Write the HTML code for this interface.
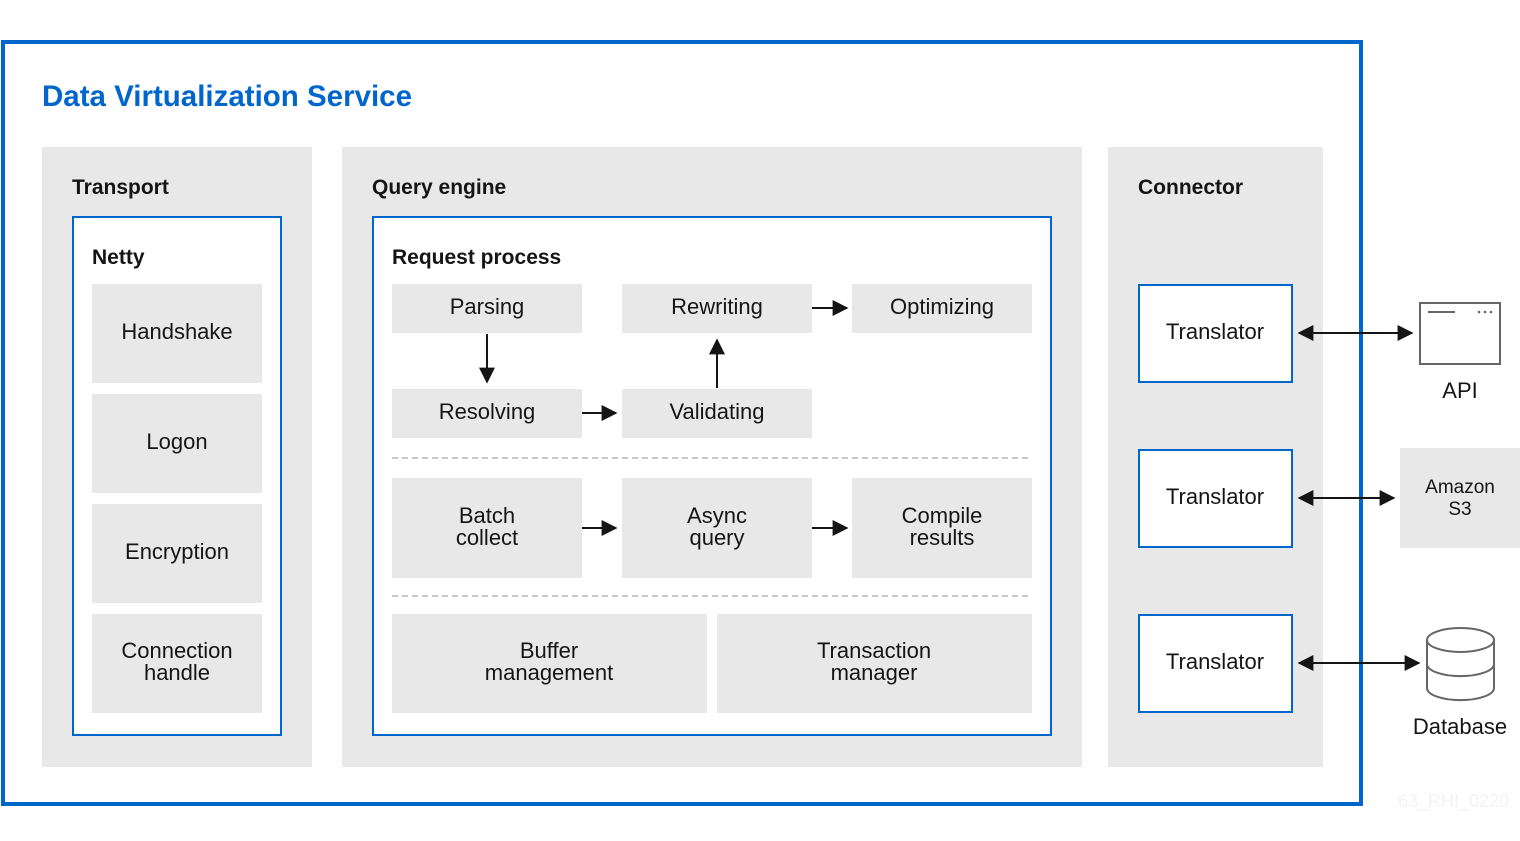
<!DOCTYPE html>
<html><head><meta charset="utf-8"><style>
html,body{margin:0;padding:0;background:#fff;}
svg{display:block;}
text{font-family:"Liberation Sans",sans-serif;fill:#151515;}
.b{font-weight:bold;font-size:21px;}
.n{font-size:22px;text-anchor:middle;}
</style></head><body>
<svg width="1520" height="841" viewBox="0 0 1520 841" xmlns="http://www.w3.org/2000/svg">
<defs>
<marker id="a" viewBox="0 0 10 10" refX="9" refY="5" markerWidth="9" markerHeight="9" orient="auto-start-reverse" markerUnits="userSpaceOnUse"><path d="M0,0 L10,5 L0,10 z" fill="#151515"/></marker>
<marker id="c" viewBox="0 0 10 10" refX="9" refY="5" markerWidth="16" markerHeight="16" orient="auto-start-reverse" markerUnits="userSpaceOnUse"><path d="M0,0 L10,5 L0,10 z" fill="#151515"/></marker>
</defs>
<rect x="3" y="42" width="1358" height="762" fill="none" stroke="#0066cc" stroke-width="4"/>
<text x="42" y="106" style="font-weight:bold;font-size:29.5px;fill:#0066cc">Data Virtualization Service</text>

<rect x="42" y="147" width="270" height="620" fill="#e8e8e8"/>
<text x="72" y="194" class="b">Transport</text>
<rect x="73" y="217" width="208" height="518" fill="#fff" stroke="#0066cc" stroke-width="2"/>
<text x="92" y="264" class="b">Netty</text>
<g fill="#e8e8e8">
<rect x="92" y="284" width="170" height="99"/><rect x="92" y="394" width="170" height="99"/>
<rect x="92" y="504" width="170" height="99"/><rect x="92" y="614" width="170" height="99"/>
</g>
<text x="177" y="339" class="n">Handshake</text>
<text x="177" y="449" class="n">Logon</text>
<text x="177" y="559" class="n">Encryption</text>
<text x="177" y="658" class="n">Connection</text>
<text x="177" y="680" class="n">handle</text>

<rect x="342" y="147" width="740" height="620" fill="#e8e8e8"/>
<text x="372" y="194" class="b">Query engine</text>
<rect x="373" y="217" width="678" height="518" fill="#fff" stroke="#0066cc" stroke-width="2"/>
<text x="392" y="264" class="b">Request process</text>
<g fill="#e8e8e8">
<rect x="392" y="284" width="190" height="49"/><rect x="622" y="284" width="190" height="49"/><rect x="852" y="284" width="180" height="49"/>
<rect x="392" y="389" width="190" height="49"/><rect x="622" y="389" width="190" height="49"/>
<rect x="392" y="478" width="190" height="100"/><rect x="622" y="478" width="190" height="100"/><rect x="852" y="478" width="180" height="100"/>
<rect x="392" y="614" width="315" height="99"/><rect x="717" y="614" width="315" height="99"/>
</g>
<text x="487" y="314" class="n">Parsing</text>
<text x="717" y="314" class="n">Rewriting</text>
<text x="942" y="314" class="n">Optimizing</text>
<text x="487" y="419" class="n">Resolving</text>
<text x="717" y="419" class="n">Validating</text>
<text x="487" y="523" class="n">Batch</text><text x="487" y="545" class="n">collect</text>
<text x="717" y="523" class="n">Async</text><text x="717" y="545" class="n">query</text>
<text x="942" y="523" class="n">Compile</text><text x="942" y="545" class="n">results</text>
<text x="549" y="658" class="n">Buffer</text><text x="549" y="680" class="n">management</text>
<text x="874" y="658" class="n">Transaction</text><text x="874" y="680" class="n">manager</text>
<g stroke="#151515" stroke-width="2" marker-end="url(#c)">
<line x1="487" y1="334" x2="487" y2="382"/>
<line x1="717" y1="388" x2="717" y2="340"/>
<line x1="812" y1="308" x2="847" y2="308"/>
<line x1="582" y1="413" x2="616" y2="413"/>
<line x1="582" y1="528" x2="616" y2="528"/>
<line x1="812" y1="528" x2="847" y2="528"/>
</g>
<g stroke="#c8c8c8" stroke-width="2" stroke-dasharray="6,4">
<line x1="392" y1="458" x2="1032" y2="458"/><line x1="392" y1="596" x2="1032" y2="596"/>
</g>

<rect x="1108" y="147" width="215" height="620" fill="#e8e8e8"/>
<text x="1138" y="194" class="b">Connector</text>
<g fill="#fff" stroke="#0066cc" stroke-width="2">
<rect x="1139" y="285" width="153" height="97"/><rect x="1139" y="450" width="153" height="97"/><rect x="1139" y="615" width="153" height="97"/>
</g>
<text x="1215" y="339" class="n">Translator</text>
<text x="1215" y="504" class="n">Translator</text>
<text x="1215" y="669" class="n">Translator</text>
<g stroke="#151515" stroke-width="2" marker-end="url(#c)" marker-start="url(#c)">
<line x1="1299" y1="333" x2="1412" y2="333"/>
<line x1="1299" y1="498" x2="1394" y2="498"/>
<line x1="1299" y1="663" x2="1419" y2="663"/>
</g>
<rect x="1420" y="303" width="80" height="61" fill="#fff" stroke="#666" stroke-width="2"/>
<line x1="1428" y1="312" x2="1455" y2="312" stroke="#666" stroke-width="2"/>
<g fill="#666"><circle cx="1479" cy="312" r="1.3"/><circle cx="1485" cy="312" r="1.3"/><circle cx="1491" cy="312" r="1.3"/></g>
<text x="1460" y="398" class="n">API</text>
<rect x="1400" y="448" width="120" height="100" fill="#e8e8e8"/>
<text x="1460" y="493" class="n" style="font-size:19px">Amazon</text>
<text x="1460" y="515" class="n" style="font-size:19px">S3</text>
<g fill="#fff" stroke="#666" stroke-width="2">
<path d="M1427,640 V688 A33,12 0 0 0 1494,688 V640"/>
<path d="M1427,664 A33,12 0 0 0 1494,664" fill="none"/>
<ellipse cx="1460.5" cy="640" rx="33.5" ry="12"/>
</g>
<text x="1460" y="734" class="n">Database</text>
<text x="1398" y="807" style="font-size:18px;fill:#f2f2f2">63_RHI_0220</text>
</svg>
</body></html>
